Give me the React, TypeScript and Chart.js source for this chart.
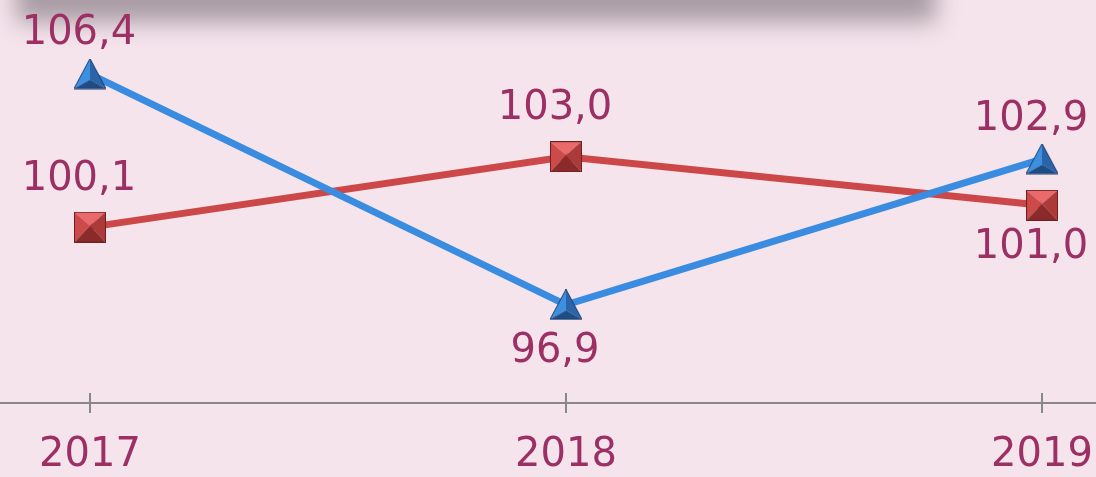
import React, { useEffect, useRef } from "react";
import { Chart, registerables } from "chart.js";

Chart.register(...registerables);

const categories = ["2017", "2018", "2019"];
const blueValues = [106.4, 96.9, 102.9];
const redValues = [100.1, 103.0, 101.0];
const blueLabelPos = ["top", "bottom", "top"];
const redLabelPos = ["top", "top", "bottom"];

const BG = "#f5e4ec";
const LABEL = "#9c2f63";
const FONT = "DejaVu Sans, Verdana, sans-serif";
const FSIZE = 40;

function makeTriangle(): HTMLCanvasElement {
  const c = document.createElement("canvas");
  c.width = 32;
  c.height = 31;
  const g = c.getContext("2d")!;
  const A = [16, 0], B = [0, 30], C = [32, 30], P = [16, 21];
  const face = (pts: number[][], col: string) => {
    g.beginPath();
    g.moveTo(pts[0][0], pts[0][1]);
    for (let i = 1; i < pts.length; i++) g.lineTo(pts[i][0], pts[i][1]);
    g.closePath();
    g.fillStyle = col;
    g.fill();
  };
  face([A, B, P], "#3d8fe0");
  face([A, C, P], "#2b64a8");
  face([B, C, P], "#1e4c85");
  g.beginPath();
  g.moveTo(A[0], A[1]);
  g.lineTo(B[0], B[1]);
  g.lineTo(C[0], C[1]);
  g.closePath();
  g.strokeStyle = "#1a3f6e";
  g.lineWidth = 1;
  g.stroke();
  return c;
}

function makeSquare(): HTMLCanvasElement {
  const c = document.createElement("canvas");
  c.width = 32;
  c.height = 31;
  const g = c.getContext("2d")!;
  const TL = [0, 0], TR = [32, 0], BR = [32, 31], BL = [0, 31], P = [16, 14];
  const face = (pts: number[][], col: string) => {
    g.beginPath();
    g.moveTo(pts[0][0], pts[0][1]);
    for (let i = 1; i < pts.length; i++) g.lineTo(pts[i][0], pts[i][1]);
    g.closePath();
    g.fillStyle = col;
    g.fill();
  };
  face([TL, TR, P], "#e86a6a");
  face([TL, BL, P], "#cc4a4a");
  face([TR, BR, P], "#ad3a3a");
  face([BL, BR, P], "#8a2a2a");
  g.strokeStyle = "#6e2020";
  g.lineWidth = 1;
  g.strokeRect(0.5, 0.5, 31, 30);
  return c;
}

const fmt = (v: number) => v.toFixed(1).replace(".", ",");

export default function App() {
  const ref = useRef<HTMLCanvasElement>(null);

  useEffect(() => {
    if (!ref.current) return;
    const tri = makeTriangle();
    const sq = makeSquare();

    const bgPlugin = {
      id: "bg",
      beforeDraw(chart: any) {
        const ctx = chart.ctx;
        ctx.save();
        ctx.fillStyle = BG;
        ctx.fillRect(0, 0, chart.width, chart.height);
        const off = 5000;
        ctx.shadowColor = "#a99ca4";
        ctx.shadowBlur = 22;
        ctx.shadowOffsetX = off;
        ctx.fillStyle = "#000";
        ctx.fillRect(16 - off, -200, 920, 222);
        ctx.restore();
      },
    };

    const tickPlugin = {
      id: "tickmarks",
      afterDraw(chart: any) {
        const ctx = chart.ctx;
        const xs = chart.scales.x;
        const y = chart.chartArea.bottom;
        ctx.save();
        ctx.strokeStyle = "#888888";
        ctx.lineWidth = 2;
        categories.forEach((_, i) => {
          const px = Math.round(xs.getPixelForValue(i));
          ctx.beginPath();
          ctx.moveTo(px, y - 10);
          ctx.lineTo(px, y + 10);
          ctx.stroke();
        });
        ctx.restore();
      },
    };

    const labelPlugin = {
      id: "valuelabels",
      afterDatasetsDraw(chart: any) {
        const ctx = chart.ctx;
        ctx.save();
        ctx.font = `${FSIZE}px ${FONT}`;
        ctx.fillStyle = LABEL;
        ctx.textAlign = "center";
        ctx.textBaseline = "middle";
        const sets = [
          { vals: blueValues, pos: blueLabelPos, up: -40, down: 47 },
          { vals: redValues, pos: redLabelPos, up: -48, down: 42 },
        ];
        sets.forEach((s, di) => {
          const meta = chart.getDatasetMeta(di);
          meta.data.forEach((el: any, i: number) => {
            const dy = s.pos[i] === "top" ? s.up : s.down;
            ctx.fillText(fmt(s.vals[i]), el.x - 11, el.y + dy);
          });
        });
        ctx.restore();
      },
    };

    const chart = new Chart(ref.current, {
      type: "line",
      data: {
        datasets: [
          {
            label: "blue",
            data: blueValues.map((v, i) => ({ x: i, y: v })),
            borderColor: "#3a8ce0",
            borderWidth: 7,
            pointStyle: tri as any,
            pointRadius: 16,
            tension: 0,
          },
          {
            label: "red",
            data: redValues.map((v, i) => ({ x: i, y: v })),
            borderColor: "#cc4848",
            borderWidth: 7,
            pointStyle: sq as any,
            pointRadius: 16,
            tension: 0,
          },
        ],
      },
      options: {
        animation: false,
        responsive: false,
        maintainAspectRatio: false,
        layout: { padding: 0, autoPadding: false },
        plugins: {
          legend: { display: false },
          tooltip: { enabled: false },
          title: { display: false },
        },
        scales: {
          x: {
            type: "linear",
            min: -0.189,
            max: 2.1134,
            grid: { display: false, drawTicks: false },
            border: { display: true, color: "#888888", width: 2 },
            ticks: {
              stepSize: 1,
              includeBounds: false,
              autoSkip: false,
              maxRotation: 0,
              padding: 29,
              color: LABEL,
              font: { family: FONT, size: FSIZE },
              callback: (v: any) => categories[v as number] ?? "",
            },
            afterFit: (scale: any) => {
              scale.height = 74;
              scale.paddingLeft = 0;
              scale.paddingRight = 0;
            },
          },
          y: {
            display: false,
            min: 92.86,
            max: 109.45,
          },
        },
      },
      plugins: [bgPlugin, tickPlugin, labelPlugin],
    });
    return () => chart.destroy();
  }, []);

  return (
    <div style={{ position: "fixed", left: 0, top: 0, width: 1096, height: 477 }}>
      <canvas ref={ref} width={1096} height={477} />
    </div>
  );
}
